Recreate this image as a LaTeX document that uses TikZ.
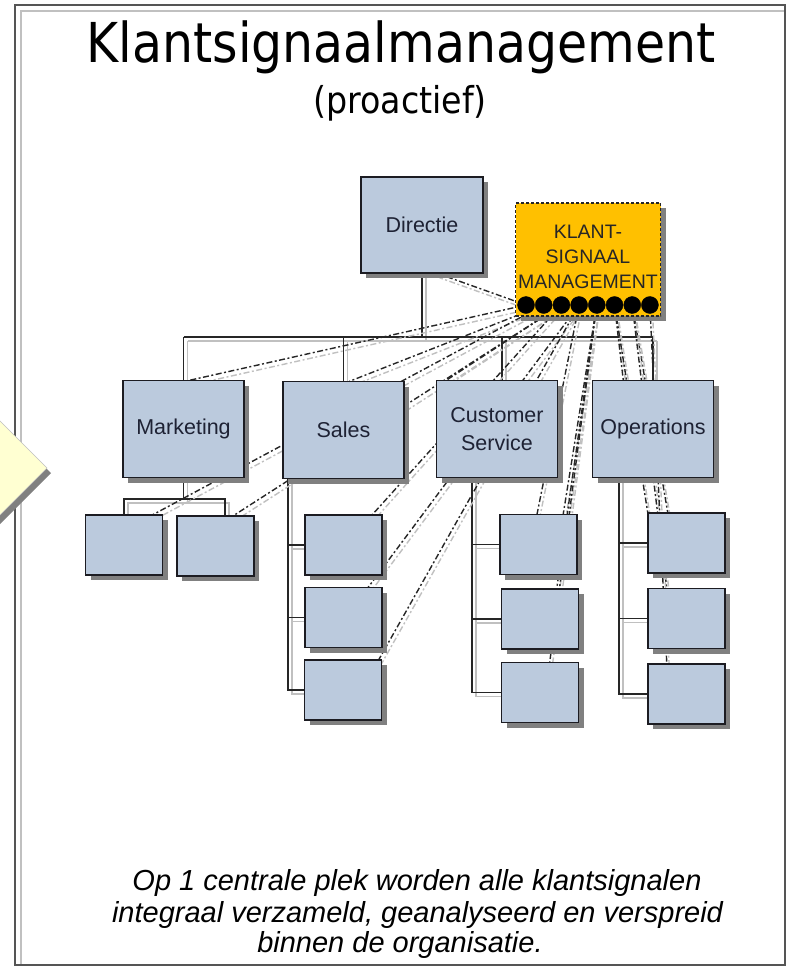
\documentclass[tikz,border=0pt]{standalone}
\usepackage{graphicx}
\usepackage{fontspec}
\setmainfont{Liberation Sans}
\newfontfamily\headfont{DejaVu Sans}
\usetikzlibrary{calc,shadows}

\definecolor{boxblue}{RGB}{187,202,221}
\definecolor{boxedge}{RGB}{28,28,34}
\definecolor{boxshade}{RGB}{128,128,128}
\definecolor{textnavy}{RGB}{30,34,52}
\definecolor{signal}{RGB}{255,192,0}
\definecolor{lineshade}{RGB}{192,192,192}
\definecolor{notepaper}{RGB}{255,255,210}
\definecolor{framegray}{RGB}{85,85,85}

% org-chart connector with its offset grey shadow
\newcommand\orgpath[1]{%
  \draw[orgshade] #1;
  \draw[orgline] #1;}
% dash-dot signal line with its offset grey shadow
\newcommand\sigpath[1]{%
  \draw[sigshade] #1;
  \draw[sigline] #1;}

\begin{document}
\begin{tikzpicture}[x=1pt,y=-1pt,
  orgbox/.style={draw=boxedge, line width=1.3pt, fill=boxblue, inner sep=0pt,
    align=center, text=textnavy, font=\fontsize{21.5}{28}\selectfont,
    drop shadow={shadow xshift=5pt, shadow yshift=-5pt, fill=boxshade, opacity=1}},
  topbox/.style={orgbox, minimum width=121, minimum height=97},
  leafbox/.style={orgbox, minimum width=77, minimum height=60},
  orgline/.style={draw=black!85, line width=1.4pt},
  orgshade/.style={draw=lineshade, line width=1.8pt, transform canvas={shift={(4pt,-4pt)}}},
  sigline/.style={draw=black!85, line width=1.4pt, dash pattern=on 6pt off 2.5pt on 2pt off 2.5pt},
  sigshade/.style={draw=lineshade, line width=1.4pt, dash pattern=on 6pt off 2.5pt on 2pt off 2.5pt,
    transform canvas={shift={(2.5pt,-4.5pt)}}},
  sigbox/.style={draw=black!85, line width=1.2pt, dash pattern=on 3pt off 2pt, fill=signal,
    minimum width=145, minimum height=113, inner sep=0pt, align=center,
    font=\fontsize{19.5}{25}\selectfont, text=black!85,
    drop shadow={shadow xshift=5pt, shadow yshift=-5pt, fill=boxshade, opacity=1}},
  dot/.style={circle, fill=black, draw=black, minimum size=17, inner sep=0pt}
]
\useasboundingbox (0,0) rectangle (790,970);
\clip (0,0) rectangle (790,970);
\fill[white] (0,0) rectangle (790,970);

% page frame
\draw[lineshade, line width=1.5pt] (21,965) -- (21,11) -- (785,11);
\draw[framegray, line width=1.5pt] (15,5) rectangle (785,965);

% note shape at the left edge
\fill[boxshade] (51,473) -- (-8,532) -- (-67,473) -- (-8,414) -- cycle;
\filldraw[fill=notepaper, draw=black!25, line width=0.6pt]
  (47,468) -- (-12,527) -- (-71,468) -- (-12,409) -- cycle;

% title
\node[font=\headfont\fontsize{55}{60}\selectfont, anchor=base, inner sep=0pt] (title) at (401,62)
  {\scalebox{0.89}[1]{Klantsignaalmanagement}};
\node[font=\headfont\fontsize{37}{42}\selectfont, anchor=base, inner sep=0pt] (subtitle) at (400,113)
  {\scalebox{0.9}[1]{(proactief)}};

% positions of the boxes
\coordinate (bus) at (0,337);
\coordinate (mkbus) at (0,499);
\coordinate (srail) at (288,0);
\coordinate (crail) at (472,0);
\coordinate (orail) at (619,0);
\foreach \i in {1,...,8} \coordinate (k\i) at ({508.3+17.7*\i},305);

% invisible placeholders so connectors can refer to the boxes first
\begin{scope}[every node/.style={inner sep=0pt}]
\node[minimum width=122, minimum height=96] (dir) at (422,225) {};
\node[minimum width=121, minimum height=97] (mkt) at (183.5,429) {};
\node[minimum width=121, minimum height=97] (sales) at (343.5,430) {};
\node[minimum width=121, minimum height=97] (cs) at (497,429) {};
\node[minimum width=121, minimum height=97] (ops) at (653,429) {};
\node[minimum width=77, minimum height=60] (mk1) at (124,545) {};
\node[minimum width=77, minimum height=60] (mk2) at (215.5,546) {};
\node[minimum width=77, minimum height=60] (sc1) at (343.5,545) {};
\node[minimum width=77, minimum height=60] (sc2) at (343.5,617.5) {};
\node[minimum width=77, minimum height=60] (sc3) at (343,690) {};
\node[minimum width=77, minimum height=60] (cs1) at (538.5,544.5) {};
\node[minimum width=77, minimum height=60] (cs2) at (540,619) {};
\node[minimum width=77, minimum height=60] (cs3) at (540,692.5) {};
\node[minimum width=77, minimum height=60] (op1) at (686.5,543) {};
\node[minimum width=77, minimum height=60] (op2) at (686.5,618.5) {};
\node[minimum width=77, minimum height=60] (op3) at (686.5,694) {};
\end{scope}

% hierarchy connectors
\orgpath{(dir.south) -- (dir.south |- bus)}
\orgpath{(mkt.north |- bus) -- (ops.north |- bus)}
\orgpath{(mkt.north |- bus) -- (mkt.north)}
\orgpath{(sales.north |- bus) -- (sales.north)}
\orgpath{($(cs.north |- bus)+(5,0)$) -- ($(cs.north)+(5,0)$)}
\orgpath{(ops.north |- bus) -- (ops.north)}
\orgpath{(mkt.south) -- (mkt.south |- mkbus)}
\orgpath{(mk1.north) -- (mk1.north |- mkbus) -- ($(mk2.north |- mkbus)+(9.5,0)$) -- ($(mk2.north)+(9.5,0)$)}
\orgpath{(sales.south -| srail) -- (srail |- sc3.west) -- (sc3.west)}
\orgpath{(srail |- sc1.west) -- (sc1.west)}
\orgpath{(srail |- sc2.west) -- (sc2.west)}
\orgpath{(cs.south -| crail) -- (crail |- cs3.west) -- (cs3.west)}
\orgpath{(crail |- cs1.west) -- (cs1.west)}
\orgpath{(crail |- cs2.west) -- (cs2.west)}
\orgpath{(ops.south -| orail) -- (orail |- op3.west) -- (op3.west)}
\orgpath{(orail |- op1.west) -- (op1.west)}
\orgpath{(orail |- op2.west) -- (op2.west)}

% signal lines from the central point to every unit
\sigpath{(k1) -- ([xshift=15pt]dir.south)}
\sigpath{(k1) -- ([xshift=6pt]mkt.north)}
\sigpath{(k2) -- ([xshift=6pt]sales.north)}
\sigpath{(k2) -- ([xshift=-10pt]mk1.north east)}
\sigpath{(k3) -- ([xshift=-21pt]mk2.north east)}
\sigpath{(k3) -- ([xshift=10pt]cs.north west)}
\sigpath{(k3) -- ([xshift=-10pt]sc1.north east)}
\sigpath{(k4) -- ([xshift=-14pt]sc2.north east)}
\sigpath{(k4) -- ([xshift=-3pt]sc3.north east)}
\sigpath{(k4) -- ([xshift=-1.5pt]cs1.north)}
\sigpath{(k5) -- ([xshift=-14pt]cs1.north east)}
\sigpath{(k5) -- ([xshift=-22pt]cs2.north east)}
\sigpath{(k5) -- ([xshift=-29pt]cs3.north east)}
\sigpath{(k6) -- ([xshift=31pt]ops.north west)}
\sigpath{(k6) -- (op1.north west)}
\sigpath{(k7) -- ([xshift=20pt]op1.north west)}
\sigpath{(k7) -- ([xshift=19pt]op2.north west)}
\sigpath{(k8) -- ([xshift=19pt]op3.north west)}

% the boxes
\node[topbox, minimum width=122, minimum height=96] at (dir) {Directie};
\node[topbox] at (mkt) {Marketing};
\node[topbox] at (sales) {Sales};
\node[topbox] at (cs) {Customer\\Service};
\node[topbox] at (ops) {Operations};
\foreach \n in {mk1,mk2,sc1,sc2,sc3,cs1,cs2,cs3,op1,op2,op3}
  \node[leafbox] at (\n) {};

% central signal management
\node[sigbox] (ksm) at (588,259.5) {};
\node[font=\fontsize{19.5}{25}\selectfont, text=black!85, align=center, inner sep=0pt] (ksmtext) at (588,257)
  {KLANT-\\SIGNAAL\\MANAGEMENT};
\foreach \i in {1,...,8} \node[dot] (dot\i) at (k\i) {};

% caption
\node[font=\itshape\fontsize{29}{31.5}\selectfont, anchor=base, inner sep=0pt] (cap1) at (417,890)
  {Op 1 centrale plek worden alle klantsignalen};
\node[font=\itshape\fontsize{29}{31.5}\selectfont, anchor=base, inner sep=0pt] (cap2) at (417.5,922)
  {integraal verzameld, geanalyseerd en verspreid};
\node[font=\itshape\fontsize{29}{31.5}\selectfont, anchor=base, inner sep=0pt] (cap3) at (400,952)
  {binnen de organisatie.};
\end{tikzpicture}
\end{document}
